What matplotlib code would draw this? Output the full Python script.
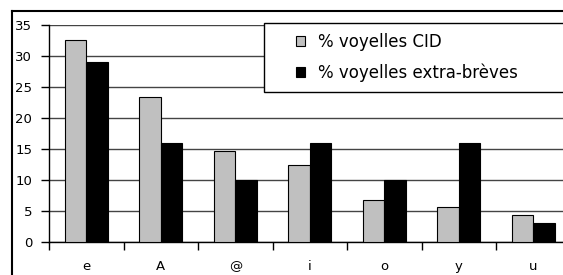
import numpy as np
import matplotlib.pyplot as plt
from matplotlib.patches import Rectangle

# data
voyelles = ['e', 'A', '@', 'i', 'o', 'y', 'u']
pct_cid = [32.5, 23.3, 14.6, 12.4, 6.7, 5.7, 4.3]
pct_extra = [29.0, 16.0, 10.0, 16.0, 10.0, 16.0, 3.0]
labels = ['% voyelles CID', '% voyelles extra-brèves']

plt.rcParams['font.family'] = ['DejaVu Sans']

W, H = 563, 275
fig = plt.figure(figsize=(W / 100, H / 100), dpi=100)
fig.patch.set_facecolor('white')

# axes extends past right edge like the original crop
ax = fig.add_axes([49 / W, 1 - 242 / H, 521.5 / W, 217.5 / H])

x = np.arange(len(voyelles))
bw = 0.29
ax.bar(x - bw, pct_cid, bw, align='edge', color='#c0c0c0',
       edgecolor='black', linewidth=0.8, label=labels[0], zorder=3)
ax.bar(x, pct_extra, bw, align='edge', color='black',
       edgecolor='black', linewidth=0.8, label=labels[1], zorder=3)

ax.set_xlim(-0.5, len(voyelles) - 0.5)
ax.set_ylim(0, 35)
ax.set_yticks(np.arange(0, 36, 5))
ax.yaxis.grid(True, color='#444444', linewidth=1.0)
ax.set_axisbelow(True)

ax.set_xticks(np.arange(-0.5, len(voyelles), 1))
ax.set_xticklabels([])
ax.set_xticks(x, minor=True)
ax.set_xticklabels(voyelles, minor=True)
ax.tick_params(axis='x', which='minor', length=0, pad=13, labelsize=9.5)
ax.tick_params(axis='x', which='major', length=6, width=1, direction='out')
ax.tick_params(axis='y', length=6, width=1, direction='out', pad=6, labelsize=9.5)

for s in ['top', 'right']:
    ax.spines[s].set_visible(False)
for s in ['left', 'bottom']:
    ax.spines[s].set_linewidth(1.0)
    ax.spines[s].set_color('black')

# outer chart frame (left and top visible in the crop)
fig.add_artist(plt.Line2D([12 / W, 12 / W], [0, 1 - 11 / H], color='black',
                          linewidth=1.5, transform=fig.transFigure))
fig.add_artist(plt.Line2D([12 / W, 1], [1 - 11 / H, 1 - 11 / H], color='black',
                          linewidth=1.5, transform=fig.transFigure))

# legend box
fig.add_artist(Rectangle((264 / W, 1 - 92 / H), 0.6, 69 / H,
                         transform=fig.transFigure, facecolor='white',
                         edgecolor='black', linewidth=1.0, zorder=5))
leg = fig.legend(loc='upper left', bbox_to_anchor=(284 / W, 1 - 21 / H),
                 bbox_transform=fig.transFigure, frameon=False,
                 fontsize=12, handlelength=0.55, handleheight=0.55,
                 handletextpad=0.8, labelspacing=0.75, borderpad=0.2)
leg.set_zorder(6)

fig.savefig('out.png', dpi=100)
